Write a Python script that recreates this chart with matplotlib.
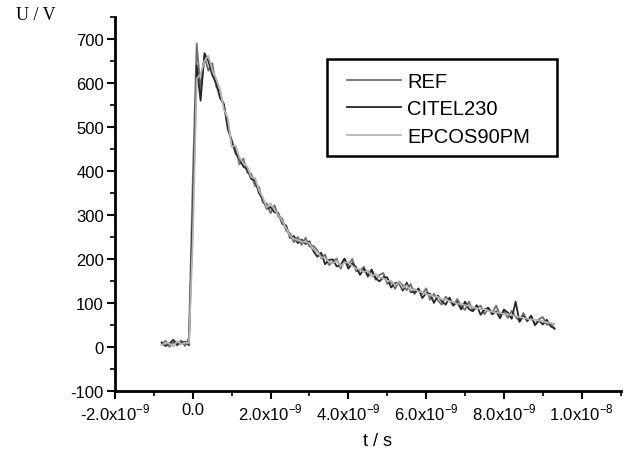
import numpy as np
import matplotlib
matplotlib.use("Agg")
import matplotlib.pyplot as plt
from matplotlib.patches import Rectangle
from matplotlib.ticker import MultipleLocator, FixedLocator, FixedFormatter

# sampling grid, ns
t_ns = np.round(np.arange(-0.8, 9.35, 0.1), 1)

ref = [6, 14, 0, 11, 3, 15, 2, 20,
       380, 690, 585, 660, 628, 645, 592, 580, 545, 510,
       462, 452, 415, 428, 396, 394, 366, 364, 328, 326,
       304, 322, 296, 292, 264, 258, 238, 250, 232, 248,
       228, 230,
       220, 202, 210, 186, 193, 201, 178, 199, 186, 200,
       172, 174, 182, 159, 172, 153, 164, 168, 143, 149,
       132, 149, 140, 129, 143, 120, 131, 120, 133, 107,
       121, 106, 96, 114, 106, 93, 109, 92, 84, 103,
       83, 89, 94, 74, 88, 78, 94, 72, 82, 66,
       82, 68, 59, 77, 59, 69, 49, 63, 68, 50,
       54, 41]

citel = [10, 2, 8, 16, 6, 9, 12, 4,
         300, 640, 560, 668, 650, 618, 600, 566, 552, 495,
         470, 440, 428, 410, 404, 382, 378, 350, 336, 314,
         318, 306, 304, 280, 276, 248, 252, 236, 244, 234,
         240, 218,
         205, 214, 188, 198, 199, 183, 186, 201, 178, 190,
         181, 164, 178, 162, 176, 156, 149, 159, 158, 135,
         145, 146, 128, 146, 125, 124, 133, 111, 122, 121,
         100, 117, 104, 96, 112, 95, 102, 85, 103, 86,
         81, 95, 73, 85, 89, 74, 81, 65, 85, 78,
         64, 103, 57, 70, 59, 71, 50, 60, 51, 62,
         47, 42]

epcos = [4, 10, 7, 1, 13, 6, 10, 8,
         250, 610, 620, 650, 662, 630, 610, 585, 540, 520,
         455, 458, 430, 418, 410, 386, 384, 356, 340, 316,
         326, 312, 300, 286, 270, 252, 246, 242, 240, 238,
         236, 222,
         216, 204, 202, 194, 190, 196, 184, 192, 192, 184,
         178, 176, 170, 174, 160, 166, 158, 156, 150, 150,
         140, 148, 134, 140, 128, 132, 126, 124, 120, 118,
         114, 114, 108, 108, 104, 102, 98, 98, 94, 94,
         90, 88, 86, 86, 82, 80, 78, 78, 74, 74,
         72, 70, 68, 66, 64, 62, 62, 60, 58, 56,
         54, 52]

series_names = ["REF", "CITEL230", "EPCOS90PM"]
series_colors = ["#6e6e6e", "#262626", "#b4b4b4"]

xtick_vals = [-2e-9, 0, 2e-9, 4e-9, 6e-9, 8e-9, 1e-8]
xtick_labels = [r"-2.0x10$^{-9}$", "0.0", r"2.0x10$^{-9}$", r"4.0x10$^{-9}$",
                r"6.0x10$^{-9}$", r"8.0x10$^{-9}$", r"1.0x10$^{-8}$"]

plt.rcParams['font.family'] = ['Liberation Sans', 'DejaVu Sans']
plt.rcParams['mathtext.fontset'] = 'custom'
plt.rcParams['mathtext.rm'] = 'Liberation Sans'
plt.rcParams['axes.unicode_minus'] = False

W, H = 632, 452
fig = plt.figure(figsize=(W / 100, H / 100), dpi=100)
ax = fig.add_axes([0.182, 0.133, 0.800, 0.827])

t = t_ns * 1e-9
for vals, name, col in zip([ref, citel, epcos], series_names, series_colors):
    ax.plot(t, vals, color=col, lw=1.3, label=name)

ax.set_xlim(-2e-9, 1.1e-8)
ax.set_ylim(-100, 750)

ax.spines['top'].set_visible(False)
ax.spines['right'].set_visible(False)
ax.spines['left'].set_linewidth(2)
ax.spines['bottom'].set_linewidth(2)

ax.xaxis.set_major_locator(FixedLocator(xtick_vals))
ax.xaxis.set_major_formatter(FixedFormatter(xtick_labels))
ax.xaxis.set_minor_locator(MultipleLocator(1e-9))
ax.yaxis.set_major_locator(FixedLocator(list(range(-100, 701, 100))))
ax.yaxis.set_minor_locator(MultipleLocator(50))

ax.tick_params(which='major', direction='out', length=6, width=1.5, labelsize=12, pad=2)
ax.tick_params(which='minor', direction='out', length=3.5, width=1.2)

fig.text(0.025, 0.985, "U / V", family='Liberation Serif', fontsize=13, va='top', ha='left')
fig.text(0.597, 0.004, "t / s", fontsize=13, ha='center', va='bottom')

# legend without its own frame, box drawn separately to get the uneven padding
leg = ax.legend(loc='upper left', bbox_to_anchor=(347 / W, 1 - 73 / H),
                bbox_transform=fig.transFigure, borderaxespad=0, borderpad=0,
                fontsize=14.5, handlelength=2.7, labelspacing=0.42,
                frameon=False, handletextpad=0.3)
fig.patches.append(Rectangle((327 / W, 1 - 157 / H), 230 / W, 97 / H,
                             transform=fig.transFigure, fill=False,
                             ec='black', lw=1.8))

fig.savefig("out.png", dpi=100)
